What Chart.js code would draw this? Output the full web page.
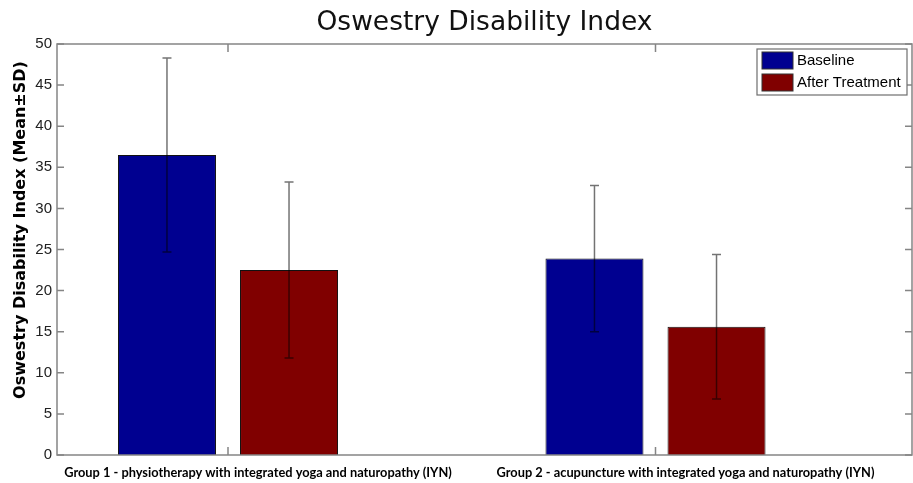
<!DOCTYPE html>
<html>
<head>
<meta charset="utf-8">
<script src="https://cdn.jsdelivr.net/npm/chart.js@4.4.0/dist/chart.umd.min.js"></script>
<style>
  html, body { margin: 0; padding: 0; background: #fff; }
  #wrap { width: 913px; height: 483px; }
</style>
</head>
<body>
<div id="wrap"><canvas id="odiChart"></canvas></div>
<script>
const groups = [
  "Group 1 - physiotherapy with integrated yoga and naturopathy (IYN)",
  "Group 2 - acupuncture with integrated yoga and naturopathy (IYN)"
];
const seriesNames = ["Baseline", "After Treatment"];
const baselineMean = [36.5, 23.9];
const baselineSD = [11.8, 8.9];
const afterMean = [22.5, 15.6];
const afterSD = [10.7, 8.8];
const yMin = 0, yMax = 50, yStep = 5;

const AXIS_GRAY = "#858585";

// error bars (mean +/- SD) drawn on top of each bar
const errorBars = {
  id: "errorBars",
  afterDatasetsDraw(chart) {
    const ctx = chart.ctx;
    const y = chart.scales.y;
    ctx.save();
    ctx.strokeStyle = "rgba(0,0,0,0.55)";
    ctx.lineWidth = 1.5;
    chart.data.datasets.forEach((ds, d) => {
      chart.getDatasetMeta(d).data.forEach((bar, i) => {
        const m = ds.data[i].y, s = ds.sd[i];
        const top = y.getPixelForValue(m + s);
        const bot = y.getPixelForValue(m - s);
        ctx.beginPath();
        ctx.moveTo(bar.x, top); ctx.lineTo(bar.x, bot);
        ctx.moveTo(bar.x - 4.5, top); ctx.lineTo(bar.x + 4.5, top);
        ctx.moveTo(bar.x - 4.5, bot); ctx.lineTo(bar.x + 4.5, bot);
        ctx.stroke();
      });
    });
    ctx.restore();
  }
};

// matlab style box with inward ticks, plus the boxed legend
const axesBox = {
  id: "axesBox",
  afterDraw(chart) {
    const ctx = chart.ctx;
    const a = chart.chartArea;
    const xs = chart.scales.x, ys = chart.scales.y;
    ctx.save();
    ctx.strokeStyle = AXIS_GRAY;
    ctx.lineWidth = 1.5;
    ctx.strokeRect(a.left, a.top, a.right - a.left, a.bottom - a.top);
    ctx.beginPath();
    ys.ticks.forEach(t => {
      const py = ys.getPixelForValue(t.value);
      ctx.moveTo(a.left, py); ctx.lineTo(a.left + 7, py);
      ctx.moveTo(a.right, py); ctx.lineTo(a.right - 7, py);
    });
    xs.ticks.forEach(t => {
      const px = xs.getPixelForValue(t.value);
      ctx.moveTo(px, a.bottom); ctx.lineTo(px, a.bottom - 8);
      ctx.moveTo(px, a.top); ctx.lineTo(px, a.top + 8);
    });
    ctx.stroke();

    // legend
    const lx = 757, ly = 49, lw = 150, lh = 46;
    ctx.fillStyle = "#fff";
    ctx.fillRect(lx, ly, lw, lh);
    ctx.strokeStyle = "#6e6e6e";
    ctx.lineWidth = 1.2;
    ctx.strokeRect(lx, ly, lw, lh);
    ctx.font = "15px 'Liberation Sans', Arial, sans-serif";
    ctx.textBaseline = "middle";
    chart.data.datasets.forEach((ds, d) => {
      const ry = ly + 3 + d * 22;
      ctx.fillStyle = ds.backgroundColor;
      ctx.fillRect(lx + 5, ry, 31, 17);
      ctx.strokeStyle = "#333";
      ctx.lineWidth = 1;
      ctx.strokeRect(lx + 5, ry, 31, 17);
      ctx.fillStyle = "#000";
      ctx.fillText(ds.label, lx + 40, ry + 9);
    });
    ctx.restore();
  }
};

new Chart(document.getElementById("odiChart").getContext("2d"), {
  type: "bar",
  data: {
    datasets: [
      {
        label: seriesNames[0],
        data: baselineMean.map((v, i) => ({ x: i + 1, y: v })),
        sd: baselineSD,
        backgroundColor: "#000090",
        borderColor: "#111",
        borderWidth: 1
      },
      {
        label: seriesNames[1],
        data: afterMean.map((v, i) => ({ x: i + 1, y: v })),
        sd: afterSD,
        backgroundColor: "#800000",
        borderColor: "#111",
        borderWidth: 1
      }
    ]
  },
  options: {
    responsive: true,
    maintainAspectRatio: false,
    animation: false,
    categoryPercentage: 0.571,
    barPercentage: 0.803,
    layout: { padding: { left: 0, right: 1, top: 0, bottom: 0 } },
    scales: {
      x: {
        type: "linear",
        offset: false,
        min: 0.6,
        max: 2.6,
        afterBuildTicks: scale => {
          scale.ticks = groups.map((g, i) => ({ value: i + 1 }));
        },
        afterFit: scale => { scale.height = 28; },
        grid: { display: false, drawTicks: false, offset: false },
        border: { display: false },
        ticks: {
          callback: v => groups[v - 1],
          labelOffset: 30,
          padding: 10,
          maxRotation: 0,
          autoSkip: false,
          color: "#000",
          font: { family: "Lato, 'Open Sans', sans-serif", size: 12.8, weight: "bold" }
        }
      },
      y: {
        min: yMin,
        max: yMax,
        afterFit: scale => { scale.width = 57; },
        grid: { display: false, drawTicks: false },
        border: { display: false },
        ticks: {
          stepSize: yStep,
          padding: 5,
          color: "#222",
          font: { family: "'Liberation Sans', Arial, sans-serif", size: 15 }
        },
        title: {
          display: true,
          // leading spaces nudge the rotated label up, as in the original
          text: "       Oswestry Disability Index (Mean±SD)",
          color: "#000",
          padding: { top: 11, bottom: 0 },
          font: { family: "'DejaVu Sans', sans-serif", size: 16, weight: "bold" }
        }
      }
    },
    plugins: {
      legend: { display: false },
      tooltip: { enabled: false },
      title: {
        display: true,
        fullSize: false,
        text: "Oswestry Disability Index",
        color: "#111",
        padding: { top: 7, bottom: 5.2 },
        font: { family: "'DejaVu Sans', sans-serif", size: 26.5, weight: "normal" }
      }
    }
  },
  plugins: [errorBars, axesBox]
});
</script>
</body>
</html>
